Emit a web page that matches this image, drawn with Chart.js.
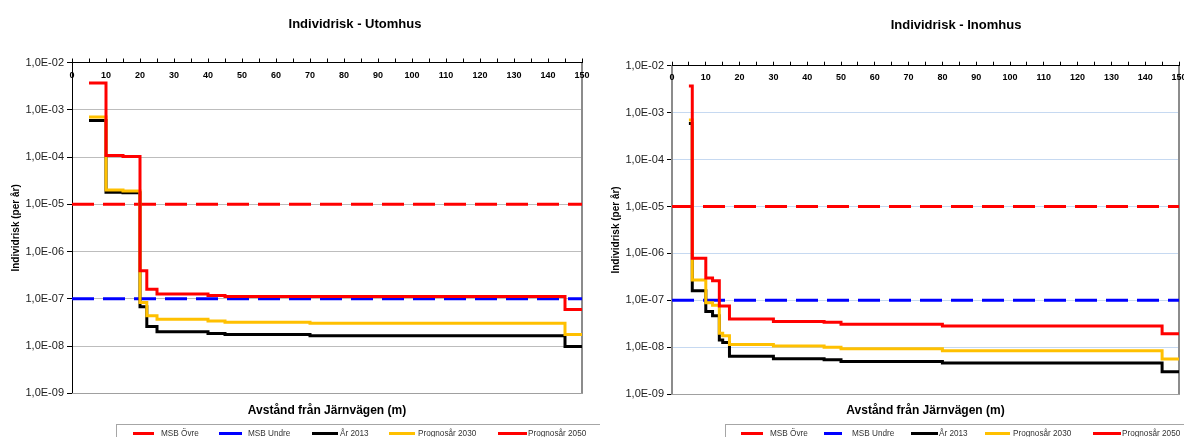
<!DOCTYPE html>
<html>
<head>
<meta charset="utf-8">
<script src="https://cdn.jsdelivr.net/npm/chart.js@4.4.1/dist/chart.umd.min.js"></script>
<style>
  html, body { margin:0; padding:0; background:#fff; }
  body { width:1184px; height:437px; overflow:hidden; position:relative; font-family:'Liberation Sans', Arial, sans-serif; }
  .panel { position:absolute; top:0; height:437px; overflow:hidden; }
  .panel canvas { position:absolute; left:0; top:0; }
  .legbox { position:absolute; border:1px solid #a6a6a6; background:transparent; height:40px; }
  .legline { position:absolute; height:3px; }
  .legtext { position:absolute; font-size:8.2px; line-height:10px; color:#333; white-space:nowrap; }
</style>
</head>
<body>
<div class="panel" id="p1" style="left:0;width:600px;"><canvas id="c1" width="710" height="437" style="width:710px;height:437px"></canvas></div>
<div class="panel" id="p2" style="left:600px;width:584px;"><canvas id="c2" width="712" height="437" style="width:712px;height:437px"></canvas></div>
<script>
// ---------- DATA ----------
const seriesNames = ['MSB Övre', 'MSB Undre', 'År 2013', 'Prognosår 2030', 'Prognosår 2050'];
const xTickValues = [0, 10, 20, 30, 40, 50, 60, 70, 80, 90, 100, 110, 120, 130, 140, 150];
const yTickValues = [1e-2, 1e-3, 1e-4, 1e-5, 1e-6, 1e-7, 1e-8, 1e-9];
const yTickLabels = ['1,0E-02', '1,0E-03', '1,0E-04', '1,0E-05', '1,0E-06', '1,0E-07', '1,0E-08', '1,0E-09'];
const msbOvre = 1e-5;
const msbUndre = 1e-7;

// Individrisk - Utomhus
const utDistance = [5, 10, 15, 20, 22, 25, 40, 45, 70, 145, 150];
const ut2013 = [5.9e-4, 1.8e-5, 1.75e-5, 6.8e-8, 2.6e-8, 2.0e-8, 1.85e-8, 1.75e-8, 1.65e-8, 9.8e-9, 9.8e-9];
const ut2030 = [7.0e-4, 2.0e-5, 1.9e-5, 8.3e-8, 4.4e-8, 3.7e-8, 3.4e-8, 3.2e-8, 3.05e-8, 1.75e-8, 1.75e-8];
const ut2050 = [3.7e-3, 1.08e-4, 1.03e-4, 3.9e-7, 1.6e-7, 1.27e-7, 1.18e-7, 1.12e-7, 1.12e-7, 5.9e-8, 5.9e-8];

// Individrisk - Inomhus
const inDistance = [5, 6, 10, 12, 14, 15, 17, 30, 45, 50, 80, 145, 150];
const in2013 = [5.9e-4, 1.6e-7, 5.8e-8, 4.7e-8, 1.43e-8, 1.26e-8, 6.4e-9, 5.7e-9, 5.4e-9, 5.0e-9, 4.6e-9, 3.0e-9, 3.0e-9];
const in2030 = [7.0e-4, 2.7e-7, 8.9e-8, 7.9e-8, 2.0e-8, 1.75e-8, 1.14e-8, 1.07e-8, 1.0e-8, 9.3e-9, 8.4e-9, 5.6e-9, 5.6e-9];
const in2050 = [3.7e-3, 7.9e-7, 3.0e-7, 2.6e-7, 7.6e-8, 7.6e-8, 4.0e-8, 3.55e-8, 3.4e-8, 3.1e-8, 2.85e-8, 1.95e-8, 1.95e-8];

// ---------- STYLE ----------
const FONT = "'Liberation Sans', Arial, sans-serif";
const seriesColors = ['#ff0000', '#0000ff', '#000000', '#ffc000', '#ff0000'];
Chart.defaults.font.family = FONT;

function pts(xs, ys) { return xs.map((x, i) => ({ x: x, y: ys[i] })); }

function buildChart(canvasId, cfg) {
  const xMin = xTickValues[0], xMax = xTickValues[xTickValues.length - 1];
  const datasets = [
    { label: seriesNames[0], data: pts([xMin, xMax], [msbOvre, msbOvre]), borderColor: seriesColors[0], borderWidth: 3, borderDash: [22, 9], order: 4 },
    { label: seriesNames[1], data: pts([xMin, xMax], [msbUndre, msbUndre]), borderColor: seriesColors[1], borderWidth: 3, borderDash: [22, 9], order: 3 },
    { label: seriesNames[2], data: pts(cfg.x, cfg.s2013), borderColor: seriesColors[2], borderWidth: 3, stepped: 'before', order: 2 },
    { label: seriesNames[3], data: pts(cfg.x, cfg.s2030), borderColor: seriesColors[3], borderWidth: 3, stepped: 'before', order: 1 },
    { label: seriesNames[4], data: pts(cfg.x, cfg.s2050), borderColor: seriesColors[4], borderWidth: 3, stepped: 'before', order: 0 }
  ];
  datasets.forEach(d => { d.pointRadius = 0; d.fill = false; d.backgroundColor = d.borderColor; d.borderCapStyle = 'butt'; d.borderJoinStyle = 'miter'; });

  return new Chart(document.getElementById(canvasId), {
    type: 'line',
    data: { datasets: datasets },
    options: {
      responsive: false,
      animation: false,
      events: [],
      layout: { padding: 0, autoPadding: false },
      plugins: {
        legend: { display: false },
        tooltip: { enabled: false },
        title: {
          display: true, text: cfg.title, color: '#000',
          font: { family: FONT, size: 13, weight: 'bold' },
          padding: { top: cfg.titlePadTop, bottom: 0 }
        }
      },
      scales: {
        y: {
          type: 'logarithmic', position: 'left', min: yTickValues[yTickValues.length - 1], max: yTickValues[0],
          afterBuildTicks: s => { s.ticks = yTickValues.map(v => ({ value: v })); },
          afterFit: s => { s.width = cfg.plotLeft; },
          ticks: {
            autoSkip: false, padding: 3, color: '#222',
            font: { family: FONT, size: 11 },
            callback: v => { const i = yTickValues.indexOf(v); return i >= 0 ? yTickLabels[i] : ''; }
          },
          grid: {
            color: c => (c.tick && c.tick.value === yTickValues[0]) ? 'rgba(0,0,0,0)' : cfg.gridColor,
            tickColor: '#000', tickLength: 5, lineWidth: 1
          },
          border: { color: cfg.yBorderColor, width: cfg.yBorderWidth },
          title: {
            display: true, text: 'Individrisk (per år)', color: '#000',
            font: { family: FONT, size: 10, weight: 'bold' },
            padding: { top: 10.7, bottom: 0 }
          }
        },
        y2: {
          type: 'logarithmic', position: 'right', min: yTickValues[yTickValues.length - 1], max: yTickValues[0],
          afterFit: s => { s.width = cfg.canvasWidth - cfg.plotRight; },
          ticks: { display: false },
          grid: { drawOnChartArea: false, drawTicks: false },
          border: { color: '#8c8c8c', width: 2 }
        },
        x2: {
          type: 'linear', position: 'bottom', min: xMin, max: xMax,
          afterFit: s => { s.height = 437 - cfg.plotBottom; },
          ticks: { display: false },
          grid: { drawOnChartArea: false, drawTicks: false },
          border: { color: '#a0a0a0', width: 1 },
          title: {
            display: true, text: 'Avstånd från Järnvägen (m)', color: '#000',
            font: { family: FONT, size: 12, weight: 'bold' },
            padding: { top: 0, bottom: 19.1 }
          }
        },
        x: {
          type: 'linear', position: 'top', min: xMin, max: xMax,
          afterFit: s => { s.height = cfg.plotTop - (15.6 + cfg.titlePadTop); },
          ticks: {
            stepSize: 5, autoSkip: false, maxRotation: 0, minRotation: 0,
            mirror: true, padding: cfg.xLabelPad, color: '#000',
            font: { family: FONT, size: 9, weight: 'bold' },
            callback: v => xTickValues.includes(v) ? String(v) : ''
          },
          grid: { drawOnChartArea: false, drawTicks: true, tickLength: 4, color: '#000', tickColor: '#000' },
          border: { color: '#000', width: 1 }
        }
      }
    }
  });
}

buildChart('c1', {
  title: 'Individrisk - Utomhus', x: utDistance, s2013: ut2013, s2030: ut2030, s2050: ut2050,
  canvasWidth: 710, plotLeft: 72, plotRight: 582, plotTop: 62.5, plotBottom: 393.3, titlePadTop: 16.2, xLabelPad: 7.3,
  gridColor: '#bdbdbd', yBorderColor: '#000', yBorderWidth: 1
});
buildChart('c2', {
  title: 'Individrisk - Inomhus', x: inDistance, s2013: in2013, s2030: in2030, s2050: in2050,
  canvasWidth: 712, plotLeft: 72, plotRight: 579, plotTop: 65.7, plotBottom: 394.2, titlePadTop: 17.2, xLabelPad: 6,
  gridColor: '#c6d9f1', yBorderColor: '#8c8c8c', yBorderWidth: 2
});

// ---------- HTML legends (Excel style boxed legend, cut at the bottom) ----------
const legendLayouts = [
  { panel: 'p1', box: 116, lines: [[133, 154], [219, 242], [312, 338], [389, 415], [498, 527]], texts: [161, 248, 340, 418, 528] },
  { panel: 'p2', box: 125, lines: [[141, 163], [224, 242], [311, 338], [385, 410], [493, 521]], texts: [170, 252, 339, 413, 522] }
];
legendLayouts.forEach(L => {
  const p = document.getElementById(L.panel);
  const box = document.createElement('div');
  box.className = 'legbox';
  box.style.left = L.box + 'px'; box.style.top = '424px'; box.style.width = '520px';
  p.appendChild(box);
  seriesNames.forEach((name, i) => {
    const ln = document.createElement('div');
    ln.className = 'legline';
    ln.style.left = L.lines[i][0] + 'px';
    ln.style.width = (L.lines[i][1] - L.lines[i][0]) + 'px';
    ln.style.top = '431.5px';
    ln.style.background = seriesColors[i];
    p.appendChild(ln);
    const tx = document.createElement('span');
    tx.className = 'legtext';
    tx.style.left = L.texts[i] + 'px';
    tx.style.top = '429px';
    tx.textContent = name;
    p.appendChild(tx);
  });
});
</script>
</body>
</html>
